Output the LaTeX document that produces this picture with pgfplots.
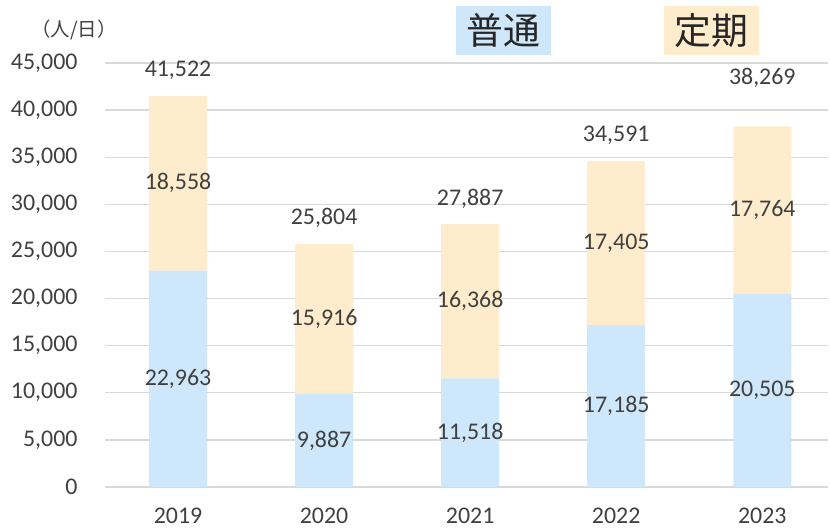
\documentclass[border=0pt]{standalone}
\usepackage{pgfplots}
\usepackage{pgfplotstable}
\pgfplotsset{compat=1.18}
\usepackage{fontspec}
\setmainfont{Carlito}
\newfontfamily\cjk{Noto Sans CJK JP}
\definecolor{futsu}{RGB}{207,231,250}
\definecolor{teiki}{RGB}{255,236,205}
\definecolor{txt}{RGB}{64,64,64}
\definecolor{gridc}{RGB}{217,217,217}

\pgfplotstableread{
x futsu teiki
0 22963 18558
1 9887 15916
2 11518 16368
3 17185 17405
4 20505 17764
}\bars

\pgfplotstableread{
x y lab
0 11481 22,963
1 4943 9,887
2 5759 11,518
3 8592 17,185
4 10252 20,505
0 32242 18,558
1 17845 15,916
2 19702 16,368
3 25887 17,405
4 29387 17,764
0 44270 41,522
1 28550 25,804
2 30630 27,887
3 37340 34,591
4 43410 38,269
}\labels

\begin{document}
\begin{tikzpicture}[x=1bp,y=1bp]
\useasboundingbox (0,0) rectangle (830,528);
\begin{axis}[at={(105bp,41bp)}, anchor=south west, scale only axis,
  width=723bp, height=424bp, ymin=0, ymax=45000, xmin=-0.5, xmax=4.45,
  ybar stacked, bar width=58bp,
  ytick={0,5000,...,45000}, scaled y ticks=false,
  xtick={0,1,2,3,4}, xticklabels={2019,2020,2021,2022,2023},
  ymajorgrids, major grid style={gridc, line width=1.3bp},
  axis line style={draw=none}, major tick length=0,
  /pgf/number format/.cd, 1000 sep={,}, assume math mode=true,
  /pgfplots/.cd,
  yticklabel style={font=\fontsize{24}{24}\selectfont, text=txt, anchor=east, xshift=-24bp},
  xticklabel style={font=\fontsize{24}{24}\selectfont, text=txt, yshift=-17bp},
]
\addplot[fill=futsu, draw=none] table[x=x, y=futsu] {\bars};
\addplot[fill=teiki, draw=none] table[x=x, y=teiki] {\bars};
\end{axis}
\begin{axis}[at={(105bp,41bp)}, anchor=south west, scale only axis,
  width=723bp, height=424bp, ymin=0, ymax=45000, xmin=-0.5, xmax=4.45,
  hide axis]
\addplot[only marks, mark=none, nodes near coords, point meta=explicit symbolic,
  every node near coord/.style={anchor=center, inner sep=0, font=\fontsize{24}{24}\selectfont, text=txt}]
  table[x=x, y=y, meta=lab] {\labels};
\end{axis}
\node[txt, font=\cjk\fontsize{19.5}{19.5}\selectfont] at (74,498) {（人/日）};
\node[fill=futsu, minimum width=95bp, minimum height=49bp, inner sep=0,
  font=\cjk\fontsize{37}{37}\selectfont, text=black!85] at (503.5,497.5) {普通};
\node[fill=teiki, minimum width=95bp, minimum height=49bp, inner sep=0,
  font=\cjk\fontsize{37}{37}\selectfont, text=black!85] at (711.5,497) {定期};
\end{tikzpicture}
\end{document}
